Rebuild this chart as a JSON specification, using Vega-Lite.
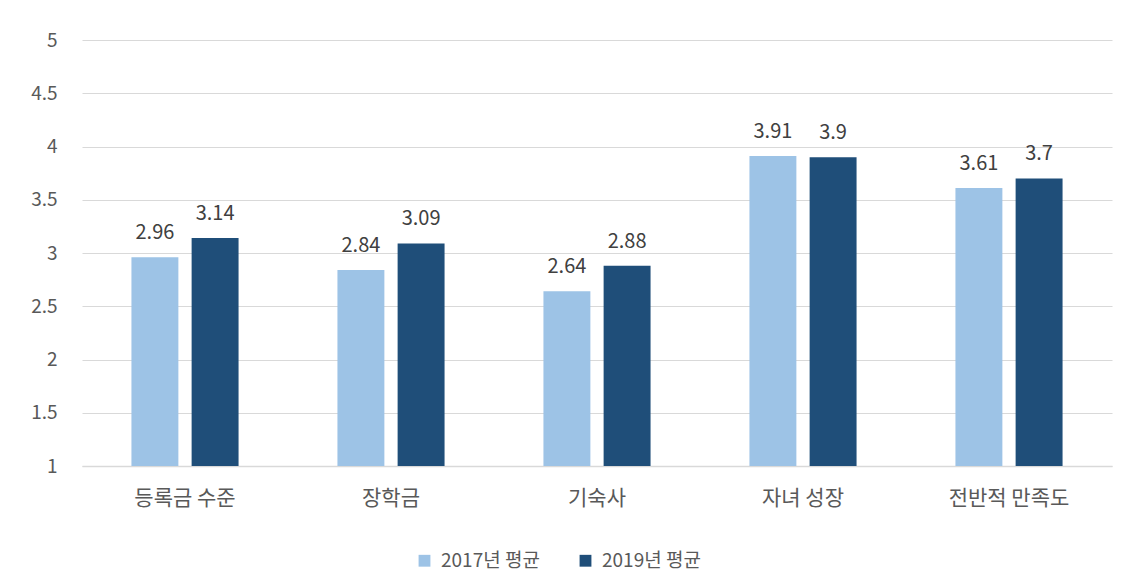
{
  "$schema": "https://vega.github.io/schema/vega-lite/v6.json",
  "width": 1030,
  "height": 426,
  "autosize": {"type": "none"},
  "padding": {"left": 82, "top": 40, "right": 23, "bottom": 119},
  "background": "white",
  "config": {"view": {"stroke": null}, "font": "Noto Sans CJK KR"},
  "data": {
    "values": [
      {"category": "등록금 수준", "series": "2017년 평균", "value": 2.96},
      {"category": "등록금 수준", "series": "2019년 평균", "value": 3.14},
      {"category": "장학금", "series": "2017년 평균", "value": 2.84},
      {"category": "장학금", "series": "2019년 평균", "value": 3.09},
      {"category": "기숙사", "series": "2017년 평균", "value": 2.64},
      {"category": "기숙사", "series": "2019년 평균", "value": 2.88},
      {"category": "자녀 성장", "series": "2017년 평균", "value": 3.91},
      {"category": "자녀 성장", "series": "2019년 평균", "value": 3.9},
      {"category": "전반적 만족도", "series": "2017년 평균", "value": 3.61},
      {"category": "전반적 만족도", "series": "2019년 평균", "value": 3.7}
    ]
  },
  "encoding": {
    "x": {
      "field": "category",
      "type": "nominal",
      "sort": ["등록금 수준", "장학금", "기숙사", "자녀 성장", "전반적 만족도"],
      "scale": {"paddingInner": 0.48, "paddingOuter": 0.24},
      "axis": {
        "title": null,
        "labelAngle": 0,
        "labelFont": "Noto Sans CJK KR",
        "labelFontSize": 21,
        "labelColor": "#595959",
        "labelPadding": 21,
        "ticks": false,
        "domainColor": "#d9d9d9",
        "domainWidth": 1.5
      }
    },
    "xOffset": {
      "field": "series",
      "type": "nominal",
      "sort": ["2017년 평균", "2019년 평균"],
      "scale": {"paddingInner": 0.22}
    },
    "y": {
      "field": "value",
      "type": "quantitative",
      "scale": {"domain": [1, 5], "zero": false, "nice": false},
      "axis": {
        "title": null,
        "values": [1, 1.5, 2, 2.5, 3, 3.5, 4, 4.5, 5],
        "format": "~g",
        "grid": true,
        "gridColor": "#d9d9d9",
        "gridWidth": 1.2,
        "domain": false,
        "ticks": false,
        "labelPadding": 25,
        "labelFont": "Noto Sans CJK KR",
        "labelFontSize": 19,
        "labelColor": "#595959"
      }
    }
  },
  "layer": [
    {
      "mark": {"type": "bar"},
      "encoding": {
        "y2": {"datum": 1},
        "color": {
          "field": "series",
          "type": "nominal",
          "scale": {"domain": ["2017년 평균", "2019년 평균"], "range": ["#9DC3E6", "#1F4E79"]},
          "legend": {
            "title": null,
            "orient": "none",
            "direction": "horizontal",
            "legendX": 333,
            "legendY": 511,
            "symbolType": "square",
            "symbolSize": 140,
            "symbolStrokeWidth": 0,
            "labelFont": "Noto Sans CJK KR",
            "labelFontSize": 19,
            "labelColor": "#595959",
            "labelOffset": 7,
            "columnPadding": 36
          }
        }
      }
    },
    {
      "mark": {"type": "text", "baseline": "alphabetic", "dy": -18, "fontSize": 20, "color": "#404040", "font": "Noto Sans CJK KR"},
      "encoding": {"text": {"field": "value", "type": "quantitative"}}
    }
  ]
}
